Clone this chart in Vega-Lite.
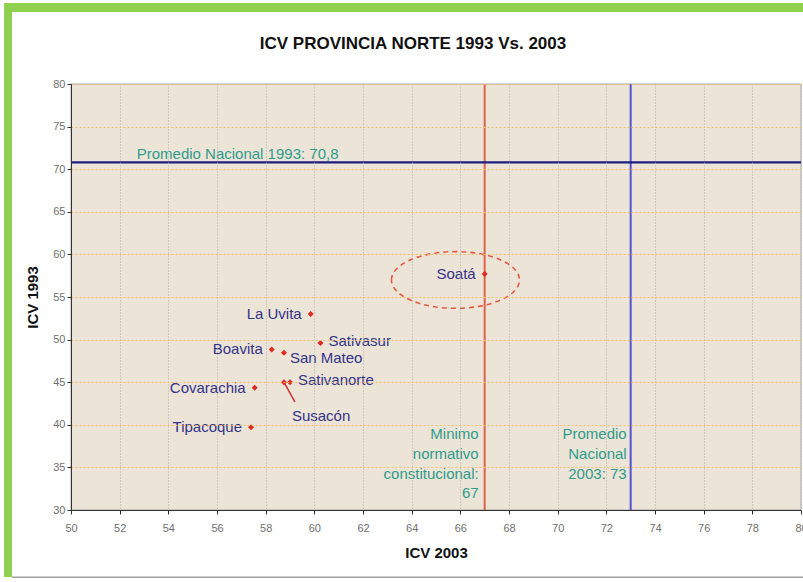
{
  "$schema": "https://vega.github.io/schema/vega-lite/v6.json",
  "width": 730,
  "height": 426,
  "autosize": "none",
  "padding": {"left": 71, "top": 84, "right": 2, "bottom": 72},
  "background": "white",
  "title": {"text": "ICV PROVINCIA NORTE 1993 Vs. 2003", "fontSize": 17, "font": "Liberation Sans", "fontWeight": "bold", "color": "#111111", "anchor": "middle", "dx": -23, "offset": -50, "zindex": 2},
  "config": {"view": {"stroke": null}, "font": "Liberation Sans"},
  "datasets": {
    "icv": [
      {"municipio": "Soatá", "icv2003": 67.0, "icv1993": 57.7},
      {"municipio": "La Uvita", "icv2003": 59.85, "icv1993": 53.0},
      {"municipio": "Sativasur", "icv2003": 60.25, "icv1993": 49.6},
      {"municipio": "Boavita", "icv2003": 58.25, "icv1993": 48.85},
      {"municipio": "San Mateo", "icv2003": 58.75, "icv1993": 48.45},
      {"municipio": "Susacón", "icv2003": 58.75, "icv1993": 45.0},
      {"municipio": "Sativanorte", "icv2003": 59.0, "icv1993": 45.0},
      {"municipio": "Covarachia", "icv2003": 57.55, "icv1993": 44.35},
      {"municipio": "Tipacoque", "icv2003": 57.4, "icv1993": 39.7}
    ],
    "leader": [{"x": 58.75, "y": 45.0, "x2": 59.2, "y2": 42.7}],
    "highlight": [{"x": 65.8, "y": 57.0}],
    "empty": [{}]
  },
  "layer": [
    {
      "data": {"name": "empty"},
      "mark": {"type": "rect", "fill": "#8fd14f"},
      "encoding": {"x": {"datum": 47.25, "type": "quantitative"}, "x2": {"datum": 82}, "y": {"datum": 89.5, "type": "quantitative"}, "y2": {"datum": 22.14}}
    },
    {
      "data": {"name": "empty"},
      "mark": {"type": "rect", "fill": "#ffffff"},
      "encoding": {"x": {"datum": 47.575, "type": "quantitative"}, "x2": {"datum": 82}, "y": {"datum": 88.45, "type": "quantitative"}, "y2": {"datum": 22.14}}
    },
    {
      "data": {"name": "empty"},
      "mark": {"type": "rule", "stroke": "#a0a0a0", "strokeWidth": 1.5},
      "encoding": {"x": {"datum": 47.575, "type": "quantitative"}, "x2": {"datum": 82}, "y": {"datum": 22.1, "type": "quantitative"}}
    },
    {
      "data": {"name": "empty"},
      "mark": {"type": "rect", "fill": "#ece4d7", "stroke": "#a8a8a8", "strokeWidth": 1},
      "encoding": {"x": {"datum": 50, "type": "quantitative"}, "x2": {"datum": 80}, "y": {"datum": 30, "type": "quantitative"}, "y2": {"datum": 80}}
    },
    {
      "data": {"name": "empty"},
      "mark": {"type": "rule", "stroke": "#e0604a", "strokeWidth": 2},
      "encoding": {"x": {"datum": 67, "type": "quantitative"}}
    },
    {
      "data": {"name": "empty"},
      "mark": {"type": "rule", "stroke": "#5252d2", "strokeWidth": 2},
      "encoding": {"x": {"datum": 73, "type": "quantitative"}}
    },
    {
      "data": {"name": "empty"},
      "mark": {"type": "rule", "stroke": "#1c1c82", "strokeWidth": 2.2},
      "encoding": {"y": {"datum": 70.8, "type": "quantitative"}}
    },
    {
      "data": {"name": "highlight"},
      "mark": {"type": "point", "shape": "M-1,0A1,0.443,0,1,1,1,0A1,0.443,0,1,1,-1,0Z", "size": 16384, "filled": false, "stroke": "#e85a40", "strokeWidth": 1.6, "strokeDash": [5, 4], "opacity": 1},
      "encoding": {"x": {"field": "x", "type": "quantitative"}, "y": {"field": "y", "type": "quantitative"}}
    },
    {
      "data": {"name": "leader"},
      "mark": {"type": "rule", "stroke": "#d03030", "strokeWidth": 1.5},
      "encoding": {"x": {"field": "x", "type": "quantitative"}, "y": {"field": "y", "type": "quantitative"}, "x2": {"field": "x2"}, "y2": {"field": "y2"}}
    },
    {
      "data": {"name": "icv"},
      "mark": {"type": "point", "shape": "diamond", "filled": true, "size": 36, "color": "#e02a20", "opacity": 1},
      "encoding": {
        "x": {"field": "icv2003", "type": "quantitative", "scale": {"domain": [50, 80], "nice": false, "zero": false},
          "axis": {"title": "ICV 2003", "values": [50, 52, 54, 56, 58, 60, 62, 64, 66, 68, 70, 72, 74, 76, 78, 80], "grid": true, "gridColor": "#b4aca2", "gridDash": [1, 2], "domainColor": "#333333", "tickColor": "#333333", "tickSize": 4, "labelPadding": 8, "labelFontSize": 11, "labelColor": "#707070", "labelFont": "Liberation Sans", "labelFlush": false, "titleFontSize": 15, "titleFontWeight": "bold", "titleColor": "#111111", "titleFont": "Liberation Sans", "titlePadding": 12, "zindex": 1}},
        "y": {"field": "icv1993", "type": "quantitative", "scale": {"domain": [30, 80], "nice": false, "zero": false},
          "axis": {"title": "ICV 1993", "values": [30, 35, 40, 45, 50, 55, 60, 65, 70, 75, 80], "grid": true, "gridColor": "#f0c070", "gridDash": [2, 2], "domainColor": "#333333", "tickColor": "#333333", "tickSize": 4, "labelPadding": 2, "labelFontSize": 11, "labelColor": "#707070", "labelFont": "Liberation Sans", "labelFlush": false, "titleFontSize": 15, "titleFontWeight": "bold", "titleColor": "#111111", "titleFont": "Liberation Sans", "titlePadding": 12, "zindex": 1}}
      }
    },
    {
      "data": {"name": "icv"},
      "transform": [{"filter": {"field": "municipio", "oneOf": ["Soatá", "La Uvita", "Boavita", "Covarachia", "Tipacoque"]}}],
      "mark": {"type": "text", "align": "right", "baseline": "middle", "dx": -9, "fontSize": 15, "font": "Liberation Sans", "color": "#33338a"},
      "encoding": {"x": {"field": "icv2003", "type": "quantitative"}, "y": {"field": "icv1993", "type": "quantitative"}, "text": {"field": "municipio"}}
    },
    {
      "data": {"name": "icv"},
      "transform": [{"filter": {"field": "municipio", "oneOf": ["Sativasur", "Sativanorte"]}}],
      "mark": {"type": "text", "align": "left", "baseline": "middle", "dx": 8, "dy": -2, "fontSize": 15, "font": "Liberation Sans", "color": "#33338a"},
      "encoding": {"x": {"field": "icv2003", "type": "quantitative"}, "y": {"field": "icv1993", "type": "quantitative"}, "text": {"field": "municipio"}}
    },
    {
      "data": {"name": "icv"},
      "transform": [{"filter": {"field": "municipio", "equal": "San Mateo"}}],
      "mark": {"type": "text", "align": "left", "baseline": "middle", "dx": 6, "dy": 5, "fontSize": 15, "font": "Liberation Sans", "color": "#33338a"},
      "encoding": {"x": {"field": "icv2003", "type": "quantitative"}, "y": {"field": "icv1993", "type": "quantitative"}, "text": {"field": "municipio"}}
    },
    {
      "data": {"name": "icv"},
      "transform": [{"filter": {"field": "municipio", "equal": "Susacón"}}],
      "mark": {"type": "text", "align": "left", "baseline": "middle", "dx": 8, "dy": 34, "fontSize": 15, "font": "Liberation Sans", "color": "#33338a"},
      "encoding": {"x": {"field": "icv2003", "type": "quantitative"}, "y": {"field": "icv1993", "type": "quantitative"}, "text": {"field": "municipio"}}
    },
    {
      "data": {"name": "empty"},
      "mark": {"type": "text", "align": "left", "baseline": "middle", "dy": -8, "fontSize": 15, "font": "Liberation Sans", "color": "#2e9c8c", "text": "Promedio Nacional 1993: 70,8"},
      "encoding": {"x": {"datum": 52.7, "type": "quantitative"}, "y": {"datum": 70.8, "type": "quantitative"}}
    },
    {
      "data": {"name": "empty"},
      "mark": {"type": "text", "align": "right", "baseline": "top", "dx": -6, "fontSize": 15, "lineHeight": 19.7, "font": "Liberation Sans", "color": "#2e9c8c", "text": ["Minimo", "normativo", "constitucional:", "67"]},
      "encoding": {"x": {"datum": 67, "type": "quantitative"}, "y": {"datum": 39.7, "type": "quantitative"}}
    },
    {
      "data": {"name": "empty"},
      "mark": {"type": "text", "align": "right", "baseline": "top", "dx": -4, "fontSize": 15, "lineHeight": 19.7, "font": "Liberation Sans", "color": "#2e9c8c", "text": ["Promedio", "Nacional", "2003: 73"]},
      "encoding": {"x": {"datum": 73, "type": "quantitative"}, "y": {"datum": 39.7, "type": "quantitative"}}
    }
  ]
}
